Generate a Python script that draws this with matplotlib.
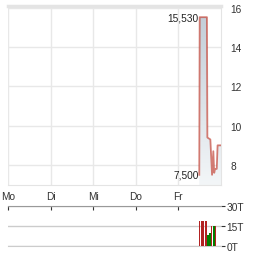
import numpy as np
import matplotlib
matplotlib.use("Agg")
import matplotlib.pyplot as plt

plt.rcParams['font.family'] = ['Liberation Sans', 'DejaVu Sans']

# Kursverlauf (x in Tagen, Mo = 0)
days = ["Mo", "Di", "Mi", "Do", "Fr"]
t = [4.49, 4.50, 4.67, 4.68, 4.75, 4.79, 4.82, 4.84, 4.86, 4.90, 4.92, 5.00]
price = [7.5, 15.53, 15.53, 9.4, 9.3, 7.5, 8.7, 7.6, 7.8, 7.8, 9.0, 9.0]
high_label = "15,530"
low_label = "7,500"

# Umsatz (in Tausend)
vol_t = [4.495, 4.54, 4.62, 4.68, 4.73, 4.77, 4.81, 4.86, 4.92]
vol = [19, 19, 19, 8, 9.5, 15, 15, 15, 19]
vol_w = [0.015, 0.05, 0.05, 0.04, 0.04, 0.02, 0.05, 0.02, 0.015]
vol_c = ["#b22222", "#b22222", "#b22222", "#008000", "#008000",
         "#b22222", "#008000", "#b22222", "#b22222"]

W, H = 264, 255
fig = plt.figure(figsize=(W / 100, H / 100), dpi=100)
x0, x1 = 8 / W, 221 / W
ax = fig.add_axes([x0, 1 - 186 / H, x1 - x0, (186 - 7) / H])
axv = fig.add_axes([x0, 1 - 247 / H, x1 - x0, 40 / H])

ymin, ymax = 6.98, 16.1
ax.set_xlim(0, 5)
ax.set_ylim(ymin, ymax)

# Fläche mit Verlauf
poly = ax.fill_between(t, price, ymin, color="none")
grad = np.linspace(0, 1, 256).reshape(-1, 1)
cmap = matplotlib.colors.LinearSegmentedColormap.from_list(
    "g", ["#f3f6f8", "#c3ced8"])
im = ax.imshow(grad, cmap=cmap, aspect="auto", origin="lower",
               extent=[0, 5, ymin, 15.6], zorder=1)
im.set_clip_path(poly.get_paths()[0], transform=ax.transData)
ax.plot(t, price, color="#c0392b", alpha=0.65, lw=1.3, zorder=3)

ax.text(4.47, 15.53, high_label, ha="right", va="center", fontsize=7.3, color="#222")
ax.text(4.47, 7.5, low_label, ha="right", va="center", fontsize=7.3, color="#222")

ax.set_xticks(range(5))
ax.set_xticklabels(days)
ax.set_yticks([8, 10, 12, 14, 16])
ax.yaxis.tick_right()
ax.tick_params(length=0, labelsize=7.3, colors="#333", pad=7)
ax.tick_params(axis="x", pad=4)
ax.grid(color="#e8e8e8", lw=1)
ax.set_axisbelow(True)
for s in ax.spines.values():
    s.set_color("#e4e4e4")
ax.spines["top"].set_linewidth(2.5)
ax.spines["left"].set_visible(False)

# Umsatz
axv.bar(vol_t, vol, width=vol_w, color=vol_c, align="edge", zorder=3)
axv.set_xlim(0, 5)
axv.set_ylim(0, 30)
axv.set_yticks([0, 15, 30])
axv.set_yticklabels(["0T", "15T", "30T"])
axv.yaxis.tick_right()
axv.set_xticks(range(5))
axv.set_xticklabels([])
axv.xaxis.tick_top()
axv.tick_params(axis="x", direction="in", length=3, color="#333", width=0.8)
axv.tick_params(axis="y", length=3, color="#333", width=0.8, labelsize=7.3,
                labelcolor="#333", pad=1)
axv.grid(axis="y", color="#cccccc", lw=1)
axv.spines["left"].set_visible(False)
axv.spines["right"].set_visible(False)
axv.spines["bottom"].set_color("#cccccc")
axv.spines["top"].set_color("#999999")

fig.savefig("out.png", dpi=100)
